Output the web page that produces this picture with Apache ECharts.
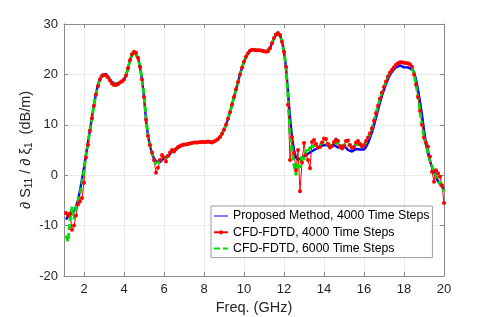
<!DOCTYPE html>
<html>
<head>
<meta charset="utf-8">
<script src="https://cdn.jsdelivr.net/npm/echarts@6/dist/echarts.min.js"></script>
<style>html,body{margin:0;padding:0;background:#fff;}#c{width:491px;height:317px;}</style>
</head>
<body>
<div id="c"></div>
<script>
// Frequency samples (GHz)
var freq = [
 1.1,1.2,1.3,1.4,1.5,1.6,1.7,1.8,1.9,2.0,
 2.1,2.2,2.3,2.4,2.5,2.6,2.7,2.8,2.9,3.0,
 3.1,3.2,3.3,3.4,3.5,3.6,3.7,3.8,3.9,4.0,
 4.1,4.2,4.3,4.4,4.5,4.6,4.7,4.8,4.9,5.0,
 5.1,5.2,5.3,5.4,5.5,5.6,5.7,5.8,5.9,6.0,
 6.1,6.2,6.3,6.4,6.5,6.6,6.7,6.8,6.9,7.0,
 7.1,7.2,7.3,7.4,7.5,7.6,7.7,7.8,7.9,8.0,
 8.1,8.2,8.3,8.4,8.5,8.6,8.7,8.8,8.9,9.0,
 9.1,9.2,9.3,9.4,9.5,9.6,9.7,9.8,9.9,10.0,
 10.1,10.2,10.3,10.4,10.5,10.6,10.7,10.8,10.9,11.0,
 11.1,11.2,11.3,11.4,11.5,11.6,11.7,11.8,11.9,12.0,
 12.1,12.2,12.3,12.4,12.5,12.6,12.7,12.8,12.9,13.0,
 13.1,13.2,13.3,13.4,13.5,13.6,13.7,13.8,13.9,14.0,
 14.1,14.2,14.3,14.4,14.5,14.6,14.7,14.8,14.9,15.0,
 15.1,15.2,15.3,15.4,15.5,15.6,15.7,15.8,15.9,16.0,
 16.1,16.2,16.3,16.4,16.5,16.6,16.7,16.8,16.9,17.0,
 17.1,17.2,17.3,17.4,17.5,17.6,17.7,17.8,17.9,18.0,
 18.1,18.2,18.3,18.4,18.5,18.6,18.7,18.8,18.9,19.0,
 19.1,19.2,19.3,19.4,19.5,19.6,19.7,19.8,19.9,20.0
];
// Proposed Method, 4000 Time Steps
var proposed = [
 -8.8,-8.2,-7.9,-7.6,-7.2,-6.2,-5.0,-3.0,-0.8,1.5,
 4.0,6.5,9.0,11.5,14.0,16.2,17.9,19.2,19.9,20.2,
 20.1,19.6,19.0,18.5,18.2,18.1,18.2,18.4,18.6,19.0,
 19.8,21.2,22.8,24.0,24.5,24.3,23.3,21.5,19.0,15.5,
 11.0,7.8,5.8,4.3,3.3,2.8,2.5,2.6,3.0,3.4,
 3.6,3.8,4.2,4.6,5.0,5.2,5.4,5.7,5.9,6.0,
 6.1,6.2,6.3,6.4,6.5,6.5,6.5,6.6,6.6,6.6,
 6.6,6.7,6.6,6.5,6.7,6.9,7.2,7.6,8.2,9.0,
 10.0,11.2,12.5,14.0,15.5,17.0,18.5,20.0,21.3,22.5,
 23.5,24.2,24.7,24.9,24.9,24.8,24.8,24.8,24.7,24.6,
 24.5,24.6,25.2,26.2,27.2,27.9,28.2,27.8,26.5,24.5,
 21.5,16.5,11.5,7.5,5.0,3.5,3.0,3.2,3.5,3.8,
 4.0,4.3,4.5,4.7,5.0,5.2,5.4,5.6,5.9,6.1,
 6.0,5.8,5.7,5.8,6.0,5.8,5.5,5.4,5.6,5.8,
 5.5,5.0,4.8,4.7,4.8,5.2,5.3,5.1,5.0,5.1,
 5.6,6.4,7.4,8.5,9.9,11.4,12.9,14.4,15.8,17.0,
 18.1,19.1,19.9,20.5,21.0,21.4,21.7,21.8,21.6,21.4,
 21.4,21.4,21.3,21.0,20.5,19.0,17.0,14.6,12.0,9.0,
 6.3,4.3,2.8,1.6,0.6,-0.3,-1.2,-1.8,-2.3,-2.8
];
// CFD-FDTD, 4000 Time Steps
var fdtd4000 = [
 -7.5,-8.0,-7.6,-10.8,-10.0,-8.0,-5.8,-5.2,-4.5,-1.5,
 3.5,6.0,8.8,11.3,13.8,16.0,17.7,19.0,19.7,19.9,
 19.8,19.4,18.8,18.2,17.9,17.9,18.1,18.4,18.6,19.0,
 19.8,21.2,22.8,24.0,24.5,24.3,23.3,21.5,19.0,15.5,
 11.0,7.8,6.0,4.5,3.0,0.5,1.5,3.0,4.0,3.5,
 2.7,3.8,4.5,5.0,4.7,5.2,5.6,5.8,6.0,6.1,
 6.1,6.2,6.3,6.4,6.5,6.5,6.5,6.6,6.6,6.6,
 6.6,6.7,6.6,6.5,6.7,6.9,7.2,7.6,8.2,9.0,
 10.0,11.2,12.5,14.0,15.5,17.0,18.5,20.0,21.3,22.5,
 23.5,24.2,24.7,24.9,24.9,24.8,24.8,24.8,24.7,24.6,
 24.5,24.6,25.2,26.2,27.2,27.9,28.2,27.8,26.5,24.5,
 21.5,14.0,3.0,7.6,4.4,1.0,5.0,-3.2,2.5,6.4,
 4.0,3.0,1.4,6.6,7.0,6.2,5.5,5.6,6.5,7.3,
 7.2,6.2,5.5,5.8,6.6,7.1,6.8,5.8,5.3,5.8,
 6.8,6.9,6.0,5.4,5.6,6.5,6.8,6.2,5.7,6.0,
 6.8,7.5,8.3,9.3,10.8,12.3,13.8,15.2,16.4,17.5,
 18.6,19.6,20.4,20.9,21.4,21.9,22.2,22.4,22.4,22.3,
 22.2,22.2,22.0,21.5,20.0,18.0,15.5,12.8,10.0,7.5,
 6.5,5.7,3.7,0.7,-1.3,1.0,0.4,-0.3,-2.0,-5.5
];
// CFD-FDTD, 6000 Time Steps
var fdtd6000 = [
 -12.0,-13.2,-9.0,-6.2,-8.7,-6.5,-5.0,-3.6,-1.5,1.0,
 4.0,6.5,9.0,11.5,14.0,16.1,17.8,19.1,19.8,20.0,
 19.9,19.5,18.9,18.3,18.0,18.0,18.1,18.4,18.6,19.0,
 19.8,21.2,22.8,24.0,24.5,24.3,23.3,21.5,19.2,16.0,
 11.5,8.0,5.8,4.3,3.3,2.0,2.2,3.0,3.3,3.0,
 3.4,4.0,4.4,4.6,5.0,5.2,5.4,5.7,5.9,6.0,
 6.1,6.2,6.3,6.4,6.5,6.5,6.5,6.6,6.6,6.6,
 6.6,6.7,6.6,6.5,6.7,6.9,7.2,7.6,8.2,9.0,
 10.0,11.2,12.5,14.0,15.5,17.0,18.5,20.0,21.3,22.5,
 23.5,24.2,24.7,24.9,24.9,24.8,24.8,24.8,24.7,24.6,
 24.5,24.6,25.2,26.2,27.2,27.9,28.2,27.8,26.5,24.5,
 21.5,15.5,8.0,5.0,2.0,0.0,2.5,1.5,4.0,3.0,
 5.0,4.5,5.6,5.2,6.0,6.2,5.8,5.8,6.3,6.8,
 6.7,6.0,5.7,6.0,6.5,6.6,6.2,5.7,5.6,6.0,
 6.4,6.3,5.8,5.4,5.6,6.1,6.3,5.9,5.6,5.8,
 6.4,7.2,8.2,9.3,10.8,12.3,13.8,15.2,16.4,17.5,
 18.6,19.6,20.4,20.9,21.4,21.9,22.2,22.4,22.4,22.3,
 22.2,22.2,22.0,21.5,20.0,18.0,15.5,12.8,10.0,7.5,
 6.0,4.5,3.0,1.8,0.8,0.0,-0.8,-1.8,-2.5,-3.2
];
var xTicks = [2,4,6,8,10,12,14,16,18,20];
var seriesNames = ['Proposed Method, 4000 Time Steps','CFD-FDTD, 4000 Time Steps','CFD-FDTD, 6000 Time Steps'];

function pairs(ys){ return freq.map(function(f,i){ return [f, ys[i]]; }); }

var FONT = '"Liberation Sans", Arial, Helvetica, sans-serif';
var axisGray = '#8a8a8a';
var chart = echarts.init(document.getElementById('c'), null, {renderer:'canvas'});
chart.setOption({
  animation: false,
  backgroundColor: '#ffffff',
  textStyle: {fontFamily: FONT},
  grid: {left: 64, right: 47, top: 24, bottom: 41, containLabel: false, outerBoundsMode: 'none'},
  legend: {
    orient: 'vertical', left: 211, top: 206,
    backgroundColor: '#ffffff', borderColor: '#9a9a9a', borderWidth: 1,
    padding: [4, 3, 3, 2], itemGap: 4.3, itemWidth: 14, itemHeight: 5,
    textStyle: {fontSize: 12.3, color: '#000', fontFamily: FONT},
    data: [
      {name: seriesNames[0], itemStyle: {opacity: 0}, lineStyle: {width: 1}},
      {name: seriesNames[1]},
      {name: seriesNames[2], itemStyle: {opacity: 0}}
    ]
  },
  xAxis: [{
    type: 'value', min: 1, max: 20,
    name: 'Freq. (GHz)', nameLocation: 'middle', nameGap: 24, nameMoveOverlap: false,
    nameTextStyle: {fontSize: 14.5, color: '#262626', fontFamily: FONT},
    axisLine: {onZero: false, lineStyle: {color: axisGray, width: 1}},
    axisTick: {inside: true, length: 4, customValues: xTicks, lineStyle: {color: axisGray}},
    axisLabel: {customValues: xTicks, fontSize: 13, color: '#262626', margin: 7, fontFamily: FONT},
    splitLine: {show: true, lineStyle: {color: '#ebebeb', width: 1}}
  }, {
    type: 'value', min: 1, max: 20, position: 'top',
    axisLine: {onZero: false, lineStyle: {color: axisGray, width: 1}},
    axisTick: {inside: true, length: 4, customValues: xTicks, lineStyle: {color: axisGray}},
    axisLabel: {show: false},
    splitLine: {show: false}
  }],
  yAxis: [{
    type: 'value', min: -20, max: 30, interval: 10,
    name: '∂ S{s|11} / ∂ ξ{s|1}  (dB/m)', nameLocation: 'middle', nameRotate: 90, nameGap: 30, nameMoveOverlap: false,
    nameTextStyle: {fontSize: 14.5, color: '#262626', fontFamily: FONT, lineHeight: 17,
      rich: {s: {fontSize: 10, lineHeight: 10, verticalAlign: 'bottom', color: '#262626', fontFamily: FONT}}},
    axisLine: {onZero: false, show: true, lineStyle: {color: axisGray, width: 1}},
    axisTick: {show: true, inside: true, length: 4, lineStyle: {color: axisGray}},
    axisLabel: {fontSize: 13, color: '#262626', margin: 6, fontFamily: FONT},
    splitLine: {show: true, lineStyle: {color: '#ebebeb', width: 1}}
  }, {
    type: 'value', min: -20, max: 30, interval: 10, position: 'right',
    axisLine: {onZero: false, show: true, lineStyle: {color: axisGray, width: 1}},
    axisTick: {show: true, inside: true, length: 4, lineStyle: {color: axisGray}},
    axisLabel: {show: false},
    splitLine: {show: false}
  }],
  series: [{
    name: seriesNames[0], type: 'line', data: pairs(proposed),
    symbol: 'none', lineStyle: {color: '#0000ff', width: 2.4}, itemStyle: {color: '#0000ff'}
  }, {
    name: seriesNames[1], type: 'line', data: pairs(fdtd4000),
    symbol: 'circle', symbolSize: 4, showAllSymbol: true,
    lineStyle: {color: '#ff0000', width: 1}, itemStyle: {color: '#ff0000'}
  }, {
    name: seriesNames[2], type: 'line', data: pairs(fdtd6000),
    symbol: 'none', lineStyle: {color: '#00dd00', width: 2.8, type: [6, 3]}, itemStyle: {color: '#00dd00'}
  }]
});
</script>
</body>
</html>
